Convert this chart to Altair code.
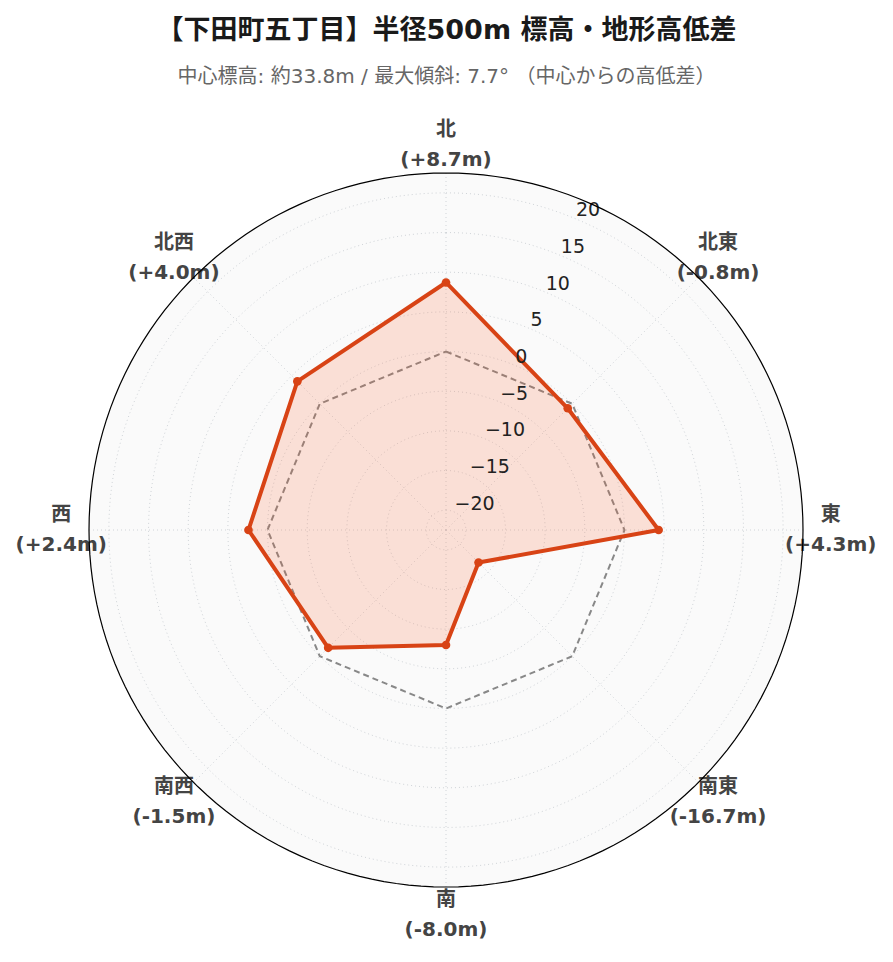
import altair as alt
import pandas as pd

# ---- data ----
directions = ["北", "北東", "東", "南東", "南", "南西", "西", "北西"]
bearings = [0, 45, 90, 135, 180, 225, 270, 315]
diffs = [8.7, -0.8, 4.3, -16.7, -8.0, -1.5, 2.4, 4.0]
reference = [0, 0, 0, 0, 0, 0, 0, 0]
ticks = [-20, -15, -10, -5, 0, 5, 10, 15, 20]
tick_labels = ["−20", "−15", "−10", "−5", "0", "5", "10", "15", "20"]
r_min, r_max = -22.5, 22.5
tick_bearing = 22.5
label_radius = 48.5  # in radial units from centre

title = "【下田町五丁目】半径500m 標高・地形高低差"
subtitle = "中心標高: 約33.8m / 最大傾斜: 7.7° （中心からの高低差）"

FONT = "DejaVu Sans, Noto Sans CJK JP"
RED = "#D84315"

df_dir = pd.DataFrame({
    "dir": directions,
    "bearing": bearings,
    "diff": diffs,
    "ref": reference,
    "label": [f"{d}\n({v:+.1f}m)" for d, v in zip(directions, diffs)],
})
df_ticks = pd.DataFrame({"tick": ticks, "tlabel": tick_labels})
df_edge = pd.DataFrame({"tick": [r_max]})

# ---- scales: equal units on x and y ----
W, H = 877, 846
R_PX = 357
span = r_max - r_min
k = R_PX / span
cx, cy = 438, 422
xdom = [-cx / k, (W - cx) / k]
ydom = [-(H - cy) / k, cy / k]
X = lambda f: alt.X(f, scale=alt.Scale(domain=xdom, nice=False, zero=False), axis=None)
Y = lambda f: alt.Y(f, scale=alt.Scale(domain=ydom, nice=False, zero=False), axis=None)


def ring_chart(df):
    return (
        alt.Chart(df)
        .transform_calculate(a="sequence(0, 360, 2)")
        .transform_flatten(["a"])
        .transform_calculate(r=f"datum.tick - ({r_min})")
        .transform_calculate(
            x="datum.r * sin(datum.a * PI / 180)",
            y="datum.r * cos(datum.a * PI / 180)",
        )
    )


disk = ring_chart(df_edge).mark_line(
    interpolate="linear-closed", fill="#fafafa", stroke="#fafafa", strokeWidth=0
).encode(x=X("x:Q"), y=Y("y:Q"), detail="tick:N", order="a:Q")

rings = ring_chart(df_ticks).mark_line(
    interpolate="linear-closed", stroke="#d0d4d8", strokeWidth=1, strokeDash=[1, 3]
).encode(x=X("x:Q"), y=Y("y:Q"), detail="tick:N", order="a:Q")

outline = ring_chart(df_edge).mark_line(
    interpolate="linear-closed", stroke="#000000", strokeWidth=1.2
).encode(x=X("x:Q"), y=Y("y:Q"), detail="tick:N", order="a:Q")

base = alt.Chart(df_dir).transform_calculate(th="datum.bearing * PI / 180")

spokes = base.transform_calculate(
    x0="0", y0="0",
    x1=f"{span} * sin(datum.th)", y1=f"{span} * cos(datum.th)",
).mark_rule(stroke="#d0d4d8", strokeWidth=1, strokeDash=[1, 3]).encode(
    x=X("x0:Q"), y=Y("y0:Q"), x2="x1:Q", y2="y1:Q"
)

zero_ref = base.transform_calculate(r=f"datum.ref - ({r_min})").transform_calculate(
    x="datum.r * sin(datum.th)", y="datum.r * cos(datum.th)"
).mark_line(
    interpolate="linear-closed", stroke="#888888", strokeWidth=2, strokeDash=[6, 4]
).encode(x=X("x:Q"), y=Y("y:Q"), order="bearing:Q")

pts = base.transform_calculate(r=f"datum.diff - ({r_min})").transform_calculate(
    x="datum.r * sin(datum.th)", y="datum.r * cos(datum.th)"
)

poly = pts.mark_line(
    interpolate="linear-closed", stroke=RED, strokeWidth=4, fill="#FF5722", fillOpacity=0.16,
    strokeJoin="round",
).encode(x=X("x:Q"), y=Y("y:Q"), order="bearing:Q")

dots = pts.mark_circle(size=75, color=RED, opacity=1).encode(x=X("x:Q"), y=Y("y:Q"))

dir_labels = base.transform_calculate(
    x=f"{label_radius} * sin(datum.th)", y=f"{label_radius} * cos(datum.th)"
).mark_text(
    lineBreak="\n", fontSize=20, fontWeight="bold", color="#444444", lineHeight=30,
    align="center", baseline="middle", dy=-15, font=FONT,
).encode(x=X("x:Q"), y=Y("y:Q"), text="label:N")

tick_text = alt.Chart(df_ticks).transform_calculate(
    r=f"datum.tick - ({r_min})", th=f"{tick_bearing} * PI / 180"
).transform_calculate(
    x="datum.r * sin(datum.th)", y="datum.r * cos(datum.th)"
).mark_text(
    align="left", baseline="middle", dx=1, dy=-8, fontSize=19, color="#222222", font=FONT
).encode(x=X("x:Q"), y=Y("y:Q"), text="tlabel:N")

chart = alt.layer(
    disk, rings, spokes, zero_ref, poly, dots, tick_text, dir_labels, outline
).properties(
    width=W,
    height=H,
    autosize=alt.AutoSizeParams(type="none"),
    padding={"top": 100, "left": 0, "right": 0, "bottom": 0},
    title=alt.Title(
        text=title,
        subtitle=subtitle,
        anchor="middle",
        font=FONT,
        fontSize=27,
        fontWeight="bold",
        color="#1a1a1a",
        subtitleFont=FONT,
        subtitleFontSize=20,
        subtitleColor="#666666",
        offset=20,
        subtitlePadding=22,
    ),
).configure_view(strokeWidth=0)

chart.save("out.html", embed_options={"renderer": "svg", "actions": False})
